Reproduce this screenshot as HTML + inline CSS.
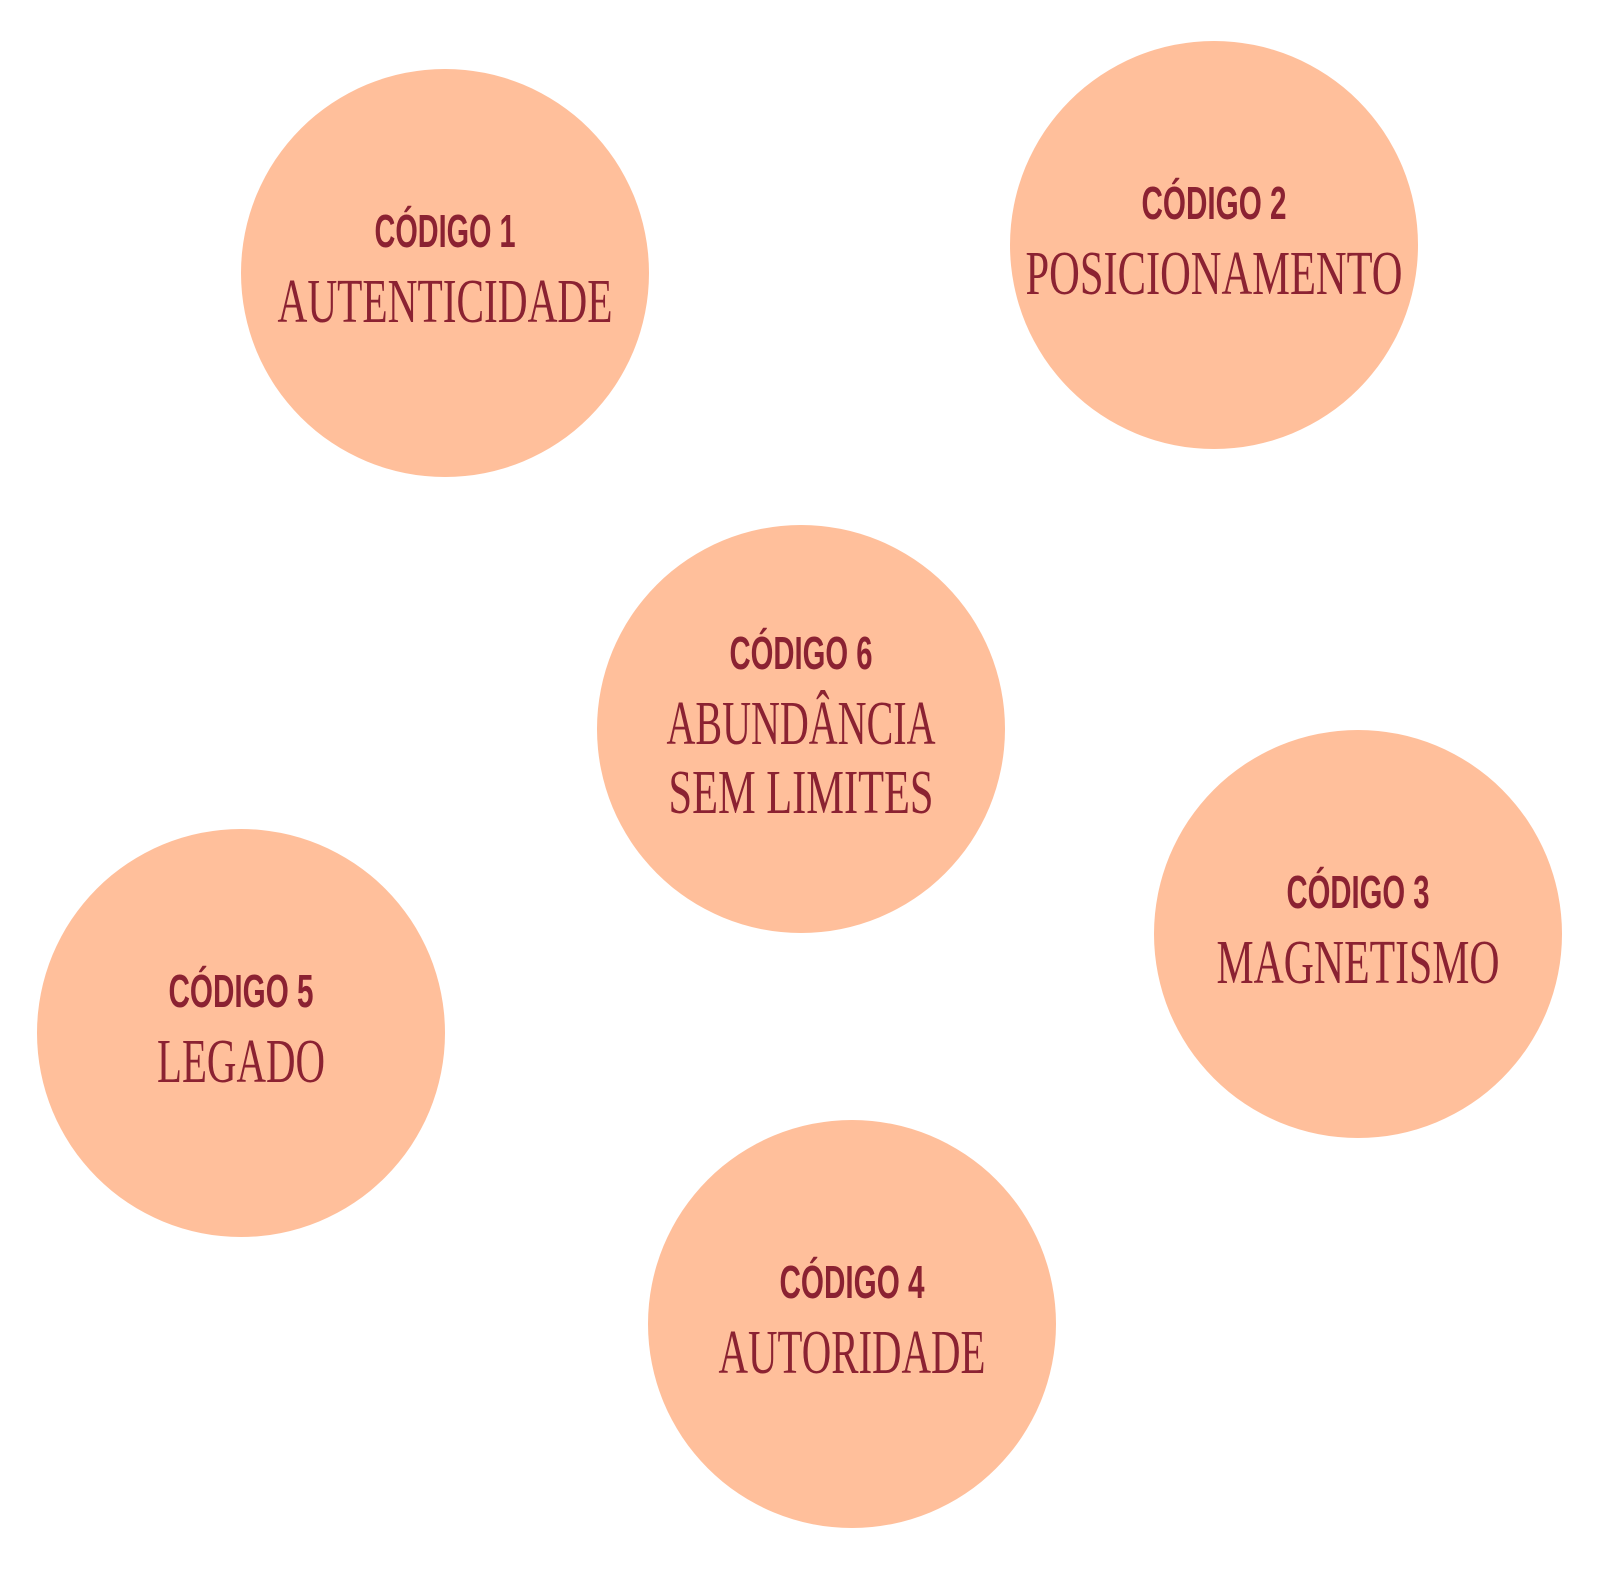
<!DOCTYPE html>
<html><head><meta charset="utf-8"><style>
html,body{margin:0;padding:0;background:#fff;}
svg{display:block;}
.c{fill:#FFBF9B;}
.l{font-family:"Liberation Sans",sans-serif;font-weight:bold;font-size:46px;fill:#8B2232;}
.s{font-family:"Liberation Serif",serif;font-size:62px;fill:#8B2232;}
</style></head><body>
<svg width="1600" height="1572" viewBox="0 0 1600 1572" xmlns="http://www.w3.org/2000/svg">
<g>
<circle class="c" cx="445" cy="273" r="204"/>
<text class="l" x="445" y="247" text-anchor="middle" textLength="141" lengthAdjust="spacingAndGlyphs">CÓDIGO 1</text>
<text class="s" x="445" y="322" text-anchor="middle" textLength="335" lengthAdjust="spacingAndGlyphs">AUTENTICIDADE</text>
</g>
<g>
<circle class="c" cx="1214" cy="245" r="204"/>
<text class="l" x="1214" y="219" text-anchor="middle" textLength="145" lengthAdjust="spacingAndGlyphs">CÓDIGO 2</text>
<text class="s" x="1214" y="294" text-anchor="middle" textLength="377" lengthAdjust="spacingAndGlyphs">POSICIONAMENTO</text>
</g>
<g>
<circle class="c" cx="801" cy="729" r="204"/>
<text class="l" x="801" y="669" text-anchor="middle" textLength="143" lengthAdjust="spacingAndGlyphs">CÓDIGO 6</text>
<text class="s" x="801" y="744" text-anchor="middle" textLength="269" lengthAdjust="spacingAndGlyphs">ABUNDÂNCIA</text>
<text class="s" x="801" y="813" text-anchor="middle" textLength="265" lengthAdjust="spacingAndGlyphs">SEM LIMITES</text>
</g>
<g>
<circle class="c" cx="1358" cy="934" r="204"/>
<text class="l" x="1358" y="908" text-anchor="middle" textLength="143" lengthAdjust="spacingAndGlyphs">CÓDIGO 3</text>
<text class="s" x="1358" y="983" text-anchor="middle" textLength="283" lengthAdjust="spacingAndGlyphs">MAGNETISMO</text>
</g>
<g>
<circle class="c" cx="241" cy="1033" r="204"/>
<text class="l" x="241" y="1007" text-anchor="middle" textLength="145" lengthAdjust="spacingAndGlyphs">CÓDIGO 5</text>
<text class="s" x="241" y="1082" text-anchor="middle" textLength="168" lengthAdjust="spacingAndGlyphs">LEGADO</text>
</g>
<g>
<circle class="c" cx="852" cy="1324" r="204"/>
<text class="l" x="852" y="1298" text-anchor="middle" textLength="145" lengthAdjust="spacingAndGlyphs">CÓDIGO 4</text>
<text class="s" x="852" y="1373" text-anchor="middle" textLength="267" lengthAdjust="spacingAndGlyphs">AUTORIDADE</text>
</g>
</svg>
</body></html>
